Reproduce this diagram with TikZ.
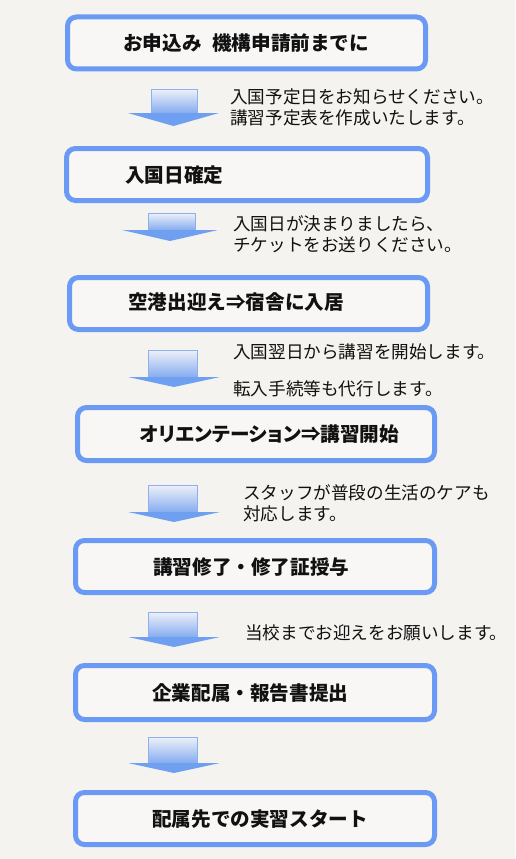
\documentclass[tikz,border=0pt]{standalone}
\usepackage{fontspec}
\newfontfamily\jp{Noto Sans CJK JP}
\definecolor{bgcol}{HTML}{F5F3EF}
\definecolor{boxblue}{HTML}{6A9AF4}
\definecolor{boxfill}{HTML}{F8F7F5}
\definecolor{arrtop}{HTML}{EEF1F8}
\definecolor{arrbot}{HTML}{86ACF0}
\definecolor{arrhead}{HTML}{6F9FF0}
\definecolor{arrline}{HTML}{8DB0EE}
\definecolor{txt}{HTML}{111111}
\newcommand\blkarrow[7]{%
  \shade[top color=arrtop, bottom color=arrbot] (#1,#3) rectangle (#2,#4);
  \draw[arrline, line width=0.7pt] (#1,#4) -- (#1,#3) -- (#2,#3) -- (#2,#4);
  \fill[arrhead] (#5,#4) -- (#6,#4) -- ({(#5+#6)/2},#7) -- cycle;
}
\begin{document}
\begin{tikzpicture}[x=1pt,y=-1pt,
  box/.style={draw=boxblue, line width=5pt, rounded corners=9pt, fill=boxfill,
    inner sep=0pt, minimum width=358pt, minimum height=52pt},
  btext/.style={anchor=west, inner sep=0pt, text=txt,
    font=\jp\bfseries\fontsize{19.6}{22}\selectfont},
  note/.style={anchor=west, inner sep=0pt, align=left, text=txt,
    font=\jp\fontsize{17.6}{21}\selectfont}]
\useasboundingbox (0,0) rectangle (515,859);
\fill[bgcol] (0,0) rectangle (515,859);

% boxes
\node[box] (b1) at (246.5,43) {};
\node[box, minimum width=361pt] (b2) at (247,174.5) {};
\node[box] (b3) at (248.5,303.5) {};
\node[box, minimum width=357pt, minimum height=53pt] (b4) at (256,434) {};
\node[box, minimum width=359pt] (b5) at (255,566.5) {};
\node[box, minimum width=359pt, minimum height=54pt] (b6) at (255,692.5) {};
\node[box, minimum width=359pt] (b7) at (255,818.5) {};

% box texts
\node[btext] (t1) at (123,43) {お申込み\hspace{0.55em}機構申請前までに};
\node[btext] (t2) at (125,175) {入国日確定};
\node[btext] (t3) at (128,302) {空港出迎え⇒宿舎に入居};
\node[btext, font=\jp\bfseries\fontsize{19.6}{22}\selectfont\addfontfeature{RawFeature=+palt}] (t4) at (140,434) {オリエンテーション⇒講習開始};
\node[btext] (t5) at (153,567) {講習修了・修了証授与};
\node[btext] (t6) at (152,693) {企業配属・報告書提出};
\node[btext] (t7) at (152,819) {配属先での実習スタート};

% block arrows
\blkarrow{151}{197}{89}{113}{128}{219}{126}
\blkarrow{148}{195}{213}{230}{122}{218}{241}
\blkarrow{148}{197}{350}{377}{128}{220}{387}
\blkarrow{148}{197}{485}{512}{128}{220}{522}
\blkarrow{148}{197}{612}{637}{128}{220}{647}
\blkarrow{148}{197}{737}{763}{128}{220}{773}

% notes
\node[note] (n1) at (230,107) {入国予定日をお知らせください。\\講習予定表を作成いたします。};
\node[note] (n2) at (233,234) {入国日が決まりましたら、\\チケットをお送りください。};
\node[note] (n3) at (233,370.5) {入国翌日から講習を開始します。\\[16pt]転入手続等も代行します。};
\node[note] (n4) at (243,503) {スタッフが普段の生活のケアも\\対応します。};
\node[note] (n5) at (245,633) {当校までお迎えをお願いします。};
\end{tikzpicture}
\end{document}
